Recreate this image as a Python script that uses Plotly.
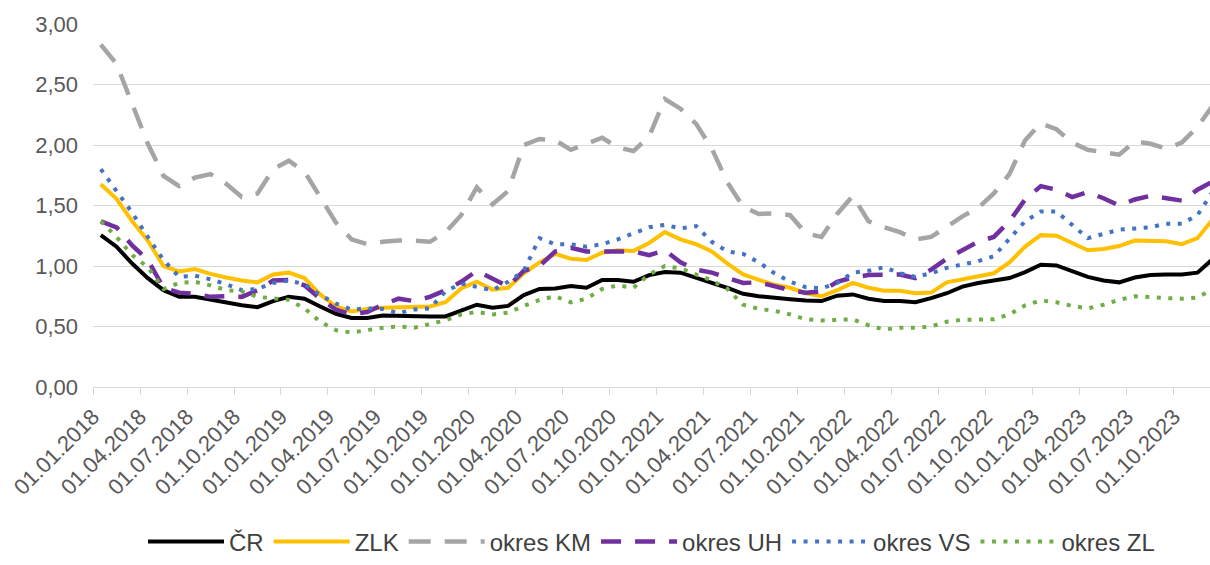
import numpy as np
import plotly.graph_objects as go

months = [f"01.{m:02d}.{y}" for y in range(2018, 2024) for m in range(1, 13)]

cr = [1.255, 1.16, 1.02, 0.90, 0.80, 0.745, 0.745, 0.72, 0.70, 0.675, 0.66, 0.71,
      0.745, 0.73, 0.665, 0.605, 0.57, 0.57, 0.59, 0.585, 0.585, 0.583, 0.583, 0.63,
      0.68, 0.655, 0.67, 0.76, 0.81, 0.815, 0.835, 0.82, 0.885, 0.885, 0.87, 0.925,
      0.95, 0.945, 0.90, 0.86, 0.82, 0.77, 0.75, 0.735, 0.725, 0.715, 0.71, 0.755,
      0.765, 0.73, 0.71, 0.71, 0.70, 0.735, 0.775, 0.83, 0.86, 0.88, 0.90, 0.95,
      1.01, 1.005, 0.96, 0.91, 0.88, 0.865, 0.905, 0.925, 0.93, 0.93, 0.945, 1.06]
zlk = [1.675, 1.555, 1.37, 1.21, 1.00, 0.955, 0.975, 0.935, 0.905, 0.88, 0.865, 0.93,
       0.945, 0.90, 0.765, 0.665, 0.625, 0.645, 0.655, 0.66, 0.66, 0.665, 0.70, 0.815,
       0.87, 0.805, 0.82, 0.94, 1.03, 1.10, 1.06, 1.05, 1.11, 1.13, 1.125, 1.19,
       1.28, 1.22, 1.18, 1.12, 1.02, 0.93, 0.885, 0.845, 0.82, 0.775, 0.75, 0.80,
       0.86, 0.82, 0.795, 0.795, 0.775, 0.78, 0.865, 0.89, 0.91, 0.94, 1.03, 1.16,
       1.255, 1.25, 1.19, 1.13, 1.14, 1.165, 1.21, 1.205, 1.205, 1.18, 1.23, 1.39]
km = [2.83, 2.67, 2.34, 2.01, 1.745, 1.66, 1.73, 1.76, 1.68, 1.57, 1.60, 1.80,
      1.87, 1.78, 1.57, 1.36, 1.22, 1.18, 1.20, 1.21, 1.21, 1.20, 1.28, 1.42,
      1.65, 1.51, 1.62, 2.00, 2.05, 2.04, 1.96, 2.01, 2.06, 1.98, 1.95, 2.07,
      2.38, 2.30, 2.175, 1.97, 1.69, 1.49, 1.43, 1.435, 1.42, 1.27, 1.24, 1.43,
      1.58, 1.37, 1.32, 1.28, 1.22, 1.24, 1.33, 1.41, 1.48, 1.60, 1.76, 2.04,
      2.18, 2.13, 2.02, 1.96, 1.94, 1.92, 2.03, 2.01, 1.97, 2.02, 2.15, 2.33]
uh = [1.37, 1.32, 1.17, 1.05, 0.82, 0.78, 0.77, 0.745, 0.75, 0.745, 0.80, 0.88,
      0.885, 0.84, 0.73, 0.64, 0.60, 0.62, 0.68, 0.73, 0.71, 0.745, 0.80, 0.87,
      0.96, 0.89, 0.83, 0.96, 1.00, 1.12, 1.15, 1.12, 1.12, 1.12, 1.12, 1.09,
      1.13, 1.03, 0.97, 0.945, 0.90, 0.86, 0.865, 0.83, 0.80, 0.78, 0.79, 0.87,
      0.905, 0.925, 0.93, 0.93, 0.90, 0.97, 1.06, 1.13, 1.20, 1.24, 1.37, 1.55,
      1.66, 1.63, 1.57, 1.61, 1.56, 1.50, 1.55, 1.58, 1.56, 1.54, 1.63, 1.70]
vs = [1.80, 1.62, 1.44, 1.24, 1.05, 0.91, 0.92, 0.89, 0.85, 0.80, 0.81, 0.86,
      0.88, 0.85, 0.76, 0.69, 0.64, 0.65, 0.645, 0.61, 0.64, 0.65, 0.79, 0.855,
      0.83, 0.80, 0.87, 0.96, 1.23, 1.18, 1.18, 1.16, 1.18, 1.22, 1.27, 1.32,
      1.34, 1.31, 1.33, 1.20, 1.12, 1.10, 1.03, 0.94, 0.87, 0.825, 0.815, 0.86,
      0.945, 0.96, 0.99, 0.94, 0.91, 0.94, 0.985, 1.01, 1.04, 1.08, 1.22, 1.37,
      1.45, 1.45, 1.34, 1.23, 1.265, 1.30, 1.31, 1.32, 1.35, 1.35, 1.42, 1.62]
zl = [1.37, 1.24, 1.09, 0.99, 0.81, 0.86, 0.87, 0.84, 0.80, 0.79, 0.745, 0.73,
      0.72, 0.65, 0.54, 0.47, 0.45, 0.47, 0.49, 0.50, 0.49, 0.52, 0.55, 0.60,
      0.62, 0.60, 0.615, 0.67, 0.72, 0.75, 0.70, 0.73, 0.81, 0.84, 0.82, 0.93,
      1.00, 0.98, 0.93, 0.88, 0.81, 0.68, 0.645, 0.63, 0.60, 0.56, 0.55, 0.555,
      0.56, 0.51, 0.475, 0.49, 0.49, 0.50, 0.54, 0.555, 0.555, 0.56, 0.60, 0.675,
      0.715, 0.70, 0.67, 0.65, 0.68, 0.72, 0.75, 0.74, 0.735, 0.73, 0.74, 0.81]

series = [
    ("ČR", cr, "#000000", 4, "solid"),
    ("ZLK", zlk, "#FFC000", 4, "solid"),
    ("okres KM", km, "#A5A5A5", 4.5, "22px,14px"),
    ("okres UH", uh, "#7030A0", 4.5, "20px,14px"),
    ("okres VS", vs, "#4472C4", 4, "4px,7.5px"),
    ("okres ZL", zl, "#70AD47", 4, "4px,7.5px"),
]

x = np.arange(len(months)) + 0.5

fig = go.Figure()
for name, vals, color, width, dash in series:
    fig.add_trace(go.Scatter(x=x, y=vals, mode="lines", name=name,
                             line=dict(color=color, width=width, dash=dash)))

fig.update_layout(
    width=1210, height=565,
    margin=dict(l=93, r=0, t=24, b=169),
    paper_bgcolor="white", plot_bgcolor="white",
    separators=", ",
    font=dict(family="Liberation Sans, Arial, sans-serif", size=22, color="#595959"),
    showlegend=True,
    legend=dict(orientation="h", x=0.5, xanchor="center", y=-0.365, yanchor="top",
                font=dict(size=24, color="#404040"), itemwidth=76,
                traceorder="normal"),
)
fig.update_xaxes(
    range=[0, 71.3],
    tickmode="array",
    tickvals=list(np.arange(0, len(months), 3)),
    ticktext=months[::3],
    tickangle=-45,
    showgrid=False, zeroline=False,
    showline=True, linecolor="#D9D9D9", linewidth=1.3,
    ticks="outside", ticklen=7, tickcolor="#D9D9D9", tickwidth=1.3,
    tickfont=dict(size=22, color="#595959"),
)
fig.update_yaxes(
    range=[0, 3], dtick=0.5, tickformat=".2f",
    showgrid=True, gridcolor="#D9D9D9", gridwidth=1.3,
    zeroline=False, showline=False,
    ticklabelstandoff=14,
    tickfont=dict(size=22, color="#595959"),
)

fig.write_html("out.html", config={"displayModeBar": False},
               post_script="document.body.style.margin='0px';")
